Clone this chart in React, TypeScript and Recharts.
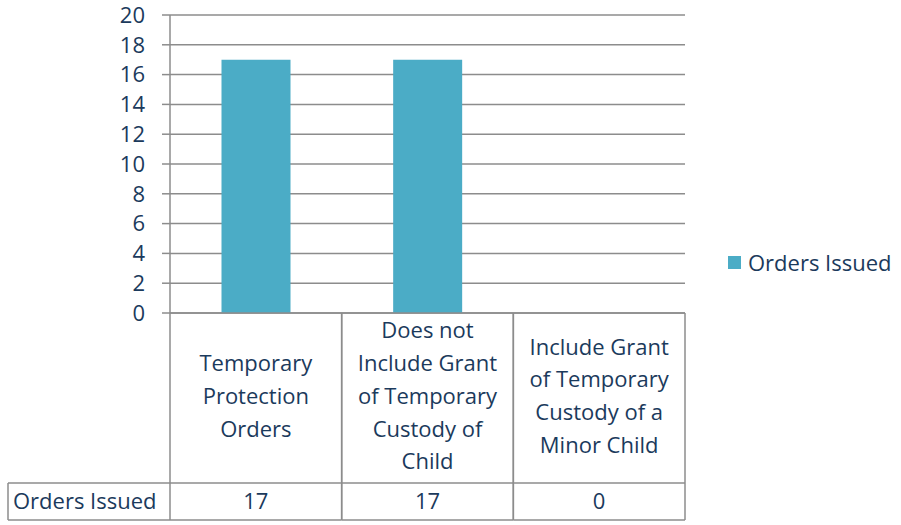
import { BarChart, Bar, XAxis, YAxis, CartesianGrid, Legend } from "recharts"

const categories = [
  "Temporary Protection Orders",
  "Does not Include Grant of Temporary Custody of Child",
  "Include Grant of Temporary Custody of a Minor Child",
]
// manual line breaks, as in the data table header
const categoryLines = [
  ["Temporary", "Protection", "Orders"],
  ["Does not", "Include Grant", "of Temporary", "Custody of", "Child"],
  ["Include Grant", "of Temporary", "Custody of a", "Minor Child"],
]
const ordersIssued = [17, 17, 0]
const yTicks = [0, 2, 4, 6, 8, 10, 12, 14, 16, 18, 20]
const seriesName = "Orders Issued"

const data = categories.map((name, i) => ({ name, orders: ordersIssued[i] }))

const W = 901
const H = 525
const PLOT_LEFT = 170
const PLOT_RIGHT = 685
const Y_AXIS_W = 60
const X_AXIS_H = 207
const HEADER_H = 170
const LEGEND_W = 173
const FS = 22
const TEXT = "#1B3A5C"
const LINE = "#8C8C8C"
const BAR = "#4BACC6"
const FONT = "'Open Sans', sans-serif"

const bandWidth = (PLOT_RIGHT - PLOT_LEFT) / categories.length

function TableTick(props: any) {
  const { x, y, payload } = props
  const i = payload.index
  const lines = categoryLines[i]
  const left = x - bandWidth / 2
  const right = x + bandWidth / 2
  const headerMid = y + HEADER_H / 2 - 2
  const rowTop = y + HEADER_H
  const rowBottom = y + X_AXIS_H
  const step = 32.8
  return (
    <g>
      <line x1={left} y1={y} x2={left} y2={rowBottom} stroke={LINE} strokeWidth={1.5} />
      <line x1={right} y1={y} x2={right} y2={rowBottom} stroke={LINE} strokeWidth={1.5} />
      <line x1={left} y1={rowTop} x2={right} y2={rowTop} stroke={LINE} strokeWidth={1.5} />
      <line x1={left} y1={rowBottom} x2={right} y2={rowBottom} stroke={LINE} strokeWidth={1.5} />
      {lines.map((t, k) => (
        <text
          key={k}
          x={x}
          y={headerMid + (k - (lines.length - 1) / 2) * step}
          dy="0.35em"
          textAnchor="middle"
          fill={TEXT}
          fontSize={FS}
          fontFamily={FONT}
        >
          {t}
        </text>
      ))}
      <text
        x={x}
        y={(rowTop + rowBottom) / 2}
        dy="0.35em"
        textAnchor="middle"
        fill={TEXT}
        fontSize={FS}
        fontFamily={FONT}
      >
        {ordersIssued[i]}
      </text>
      {i === 0 && (
        <g>
          <line x1={8} y1={rowTop} x2={left} y2={rowTop} stroke={LINE} strokeWidth={1.5} />
          <line x1={8} y1={rowBottom} x2={left} y2={rowBottom} stroke={LINE} strokeWidth={1.5} />
          <line x1={8} y1={rowTop} x2={8} y2={rowBottom} stroke={LINE} strokeWidth={1.5} />
          <text
            x={13}
            y={(rowTop + rowBottom) / 2}
            dy="0.35em"
            textAnchor="start"
            fill={TEXT}
            fontSize={FS}
            fontFamily={FONT}
          >
            {seriesName}
          </text>
        </g>
      )}
    </g>
  )
}

function LegendContent() {
  return (
    <div style={{ display: "flex", alignItems: "center", fontFamily: FONT, fontSize: FS, color: TEXT }}>
      <span style={{ display: "inline-block", width: 13, height: 13, background: BAR, marginRight: 7 }} />
      <span>{seriesName}</span>
    </div>
  )
}

export default function App() {
  return (
    <div style={{ position: "absolute", left: 0, top: 0, width: W, height: H, background: "#fff" }}>
      <BarChart
        width={W}
        height={H}
        data={data}
        margin={{ top: 15, right: W - PLOT_RIGHT - LEGEND_W, left: PLOT_LEFT - Y_AXIS_W, bottom: 5 }}
        barCategoryGap="30%"
        style={{ fontFamily: FONT }}
      >
        <CartesianGrid horizontal vertical={false} stroke={LINE} strokeWidth={1.5} />
        <XAxis
          dataKey="name"
          height={X_AXIS_H}
          axisLine={{ stroke: LINE, strokeWidth: 1.5 }}
          tickLine={false}
          tickSize={0}
          tickMargin={0}
          interval={0}
          tick={<TableTick />}
        />
        <YAxis
          width={Y_AXIS_W}
          domain={[0, 20]}
          ticks={yTicks}
          interval={0}
          axisLine={{ stroke: LINE, strokeWidth: 1.5 }}
          tickLine={{ stroke: LINE, strokeWidth: 1.5 }}
          tickSize={8}
          tickMargin={17}
          tick={{ fill: TEXT, fontSize: FS, fontFamily: FONT }}
        />
        <Legend
          layout="vertical"
          align="right"
          verticalAlign="middle"
          content={<LegendContent />}
          wrapperStyle={{ left: 728, top: 247, width: LEGEND_W }}
        />
        <Bar dataKey="orders" name={seriesName} fill={BAR} isAnimationActive={false} />
      </BarChart>
    </div>
  )
}
